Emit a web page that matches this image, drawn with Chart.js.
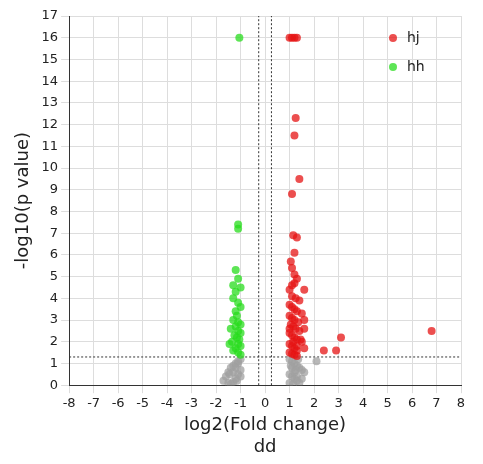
<!DOCTYPE html>
<html><head><meta charset="utf-8">
<script src="https://cdn.jsdelivr.net/npm/chart.js@4"></script>
<style>body{margin:0;background:#fff}#wrap{width:483px;height:464px}</style>
</head><body><div id="wrap"><canvas id="c"></canvas></div>
<script>
// up-regulated (hj)
const upX = [1.0, 1.1, 1.3, 1.2, 1.25, 1.4, 1.2, 1.1, 1.15, 1.3, 1.2, 1.05, 1.1, 1.2, 1.3, 1.6, 1.1, 1.2, 1.0, 1.1, 1.25, 1.4, 1.6, 1.0, 1.1, 1.2, 1.3, 1.5, 1.0, 1.1, 1.2, 1.35, 1.6, 1.05, 1.15, 1.25, 1.4, 1.0, 1.1, 1.2, 1.3, 1.5, 1.0, 1.1, 1.2, 1.3, 1.45, 1.6, 1.0, 1.1, 1.2, 1.3, 1.0, 1.15, 1.3, 2.4, 2.9, 3.1, 6.8];
const upY = [16.0, 16.0, 16.0, 16.0, 12.3, 9.5, 11.5, 8.8, 6.9, 6.8, 6.1, 5.7, 5.4, 5.1, 4.9, 4.4, 4.6, 4.7, 4.4, 4.1, 4.0, 3.9, 3.0, 3.7, 3.6, 3.5, 3.4, 3.3, 3.2, 3.1, 3.0, 2.9, 2.6, 2.8, 2.7, 2.6, 2.5, 2.4, 2.3, 2.2, 2.1, 2.0, 1.9, 1.8, 1.7, 1.6, 2.1, 1.7, 1.5, 1.45, 1.4, 1.35, 2.6, 2.0, 1.8, 1.6, 1.6, 2.2, 2.5];
// down-regulated (hh)
const downX = [-1.05, -1.1, -1.1, -1.2, -1.3, -1.1, -1.0, -1.2, -1.3, -1.1, -1.0, -1.2, -1.15, -1.3, -1.1, -1.0, -1.2, -1.4, -1.1, -1.0, -1.25, -1.15, -1.05, -1.35, -1.1, -1.0, -1.2, -1.3, -1.1, -1.0, -1.45];
const downY = [16.0, 7.4, 7.2, 5.3, 4.6, 4.9, 4.5, 4.3, 4.0, 3.8, 3.6, 3.4, 3.2, 3.0, 2.9, 2.8, 2.7, 2.6, 2.5, 2.4, 2.3, 2.2, 2.1, 2.0, 1.9, 1.8, 1.7, 1.6, 1.5, 1.4, 1.9];
// not significant
const nsX = [-1.0, -1.1, -1.2, -1.3, -1.4, -1.5, -1.6, -1.7, -1.0, -1.1, -1.2, -1.3, -1.4, -1.5, -1.1, -1.2, -1.3, -1.0, -1.15, -1.45, 1.0, 1.1, 1.2, 1.3, 1.4, 1.5, 1.6, 1.0, 1.1, 1.2, 1.3, 1.4, 1.5, 1.1, 1.2, 1.3, 1.0, 1.15, 1.35, 2.1, 1.05, 1.25];
const nsY = [1.2, 1.1, 1.0, 0.9, 0.8, 0.6, 0.4, 0.2, 0.7, 0.5, 0.3, 0.15, 0.05, 0.1, 1.0, 0.8, 0.6, 0.4, 0.2, 0.5, 1.2, 1.1, 1.0, 0.9, 0.8, 0.7, 0.6, 0.5, 0.4, 0.3, 0.2, 0.1, 0.3, 0.8, 0.6, 0.4, 0.1, 0.05, 1.2, 1.1, 0.9, 0.7];
const xTicks = [-8, -7, -6, -5, -4, -3, -2, -1, 0, 1, 2, 3, 4, 5, 6, 7, 8];
const legendNames = ["hj", "hh"];

const pts = (xs, ys) => xs.map((x, i) => ({ x: x, y: ys[i] }));
const line = (d) => ({ type: "line", data: d, borderColor: "#333", borderWidth: 1, borderDash: [2, 2], pointRadius: 0, showLine: true, fill: false });

// legend drawn inside the plot, top right
const innerLegend = {
  id: "innerLegend",
  afterDraw(chart) {
    const ctx = chart.ctx, a = chart.chartArea;
    ctx.save();
    ctx.font = "14px DejaVu Sans";
    ctx.textBaseline = "middle";
    legendNames.forEach((name, i) => {
      const y = a.top + 22 + i * 29;
      ctx.fillStyle = chart.data.datasets[i].backgroundColor;
      ctx.beginPath(); ctx.arc(a.right - 68, y, 4, 0, Math.PI * 2); ctx.fill();
      ctx.fillStyle = "#222";
      ctx.fillText(name, a.right - 54, y);
    });
    ctx.restore();
  },
};

new Chart(document.getElementById("c"), {
  type: "scatter",
  data: {
    datasets: [
      { label: "hj", data: pts(upX, upY), backgroundColor: "rgba(230,20,20,0.75)", borderWidth: 0, pointRadius: 4 },
      { label: "hh", data: pts(downX, downY), backgroundColor: "rgba(40,220,30,0.75)", borderWidth: 0, pointRadius: 4 },
      { label: "ns", data: pts(nsX, nsY), backgroundColor: "rgba(160,160,160,0.75)", borderWidth: 0, pointRadius: 4 },
      Object.assign({ label: "l1" }, line([{ x: -8, y: 1.3 }, { x: 8, y: 1.3 }])),
      Object.assign({ label: "l2" }, line([{ x: -0.26, y: 0 }, { x: -0.26, y: 17 }])),
      Object.assign({ label: "l3" }, line([{ x: 0.26, y: 0 }, { x: 0.26, y: 17 }])),
    ],
  },
  plugins: [innerLegend],
  options: {
    responsive: true,
    maintainAspectRatio: false,
    animation: false,
    layout: { padding: { top: 16, right: 22, left: 9, bottom: 6 } },
    plugins: { legend: { display: false }, tooltip: { enabled: false } },
    scales: {
      x: {
        min: -8, max: 8,
        afterBuildTicks: (ax) => { ax.ticks = xTicks.map((v) => ({ value: v })); },
        grid: { color: "#ddd" },
        border: { color: "#333" },
        ticks: { color: "#222", font: { size: 13, family: "DejaVu Sans" }, maxRotation: 0 },
        title: { display: true, text: ["log2(Fold change)", "dd"], color: "#222", font: { size: 18, family: "DejaVu Sans" }, padding: 0 },
      },
      y: {
        min: 0, max: 17,
        ticks: { stepSize: 1, color: "#222", font: { size: 13, family: "DejaVu Sans" } },
        grid: { color: "#ddd" },
        border: { color: "#333" },
        title: { display: true, text: "-log10(p value)", color: "#222", font: { size: 18, family: "DejaVu Sans" } },
      },
    },
  },
});
</script></body></html>
